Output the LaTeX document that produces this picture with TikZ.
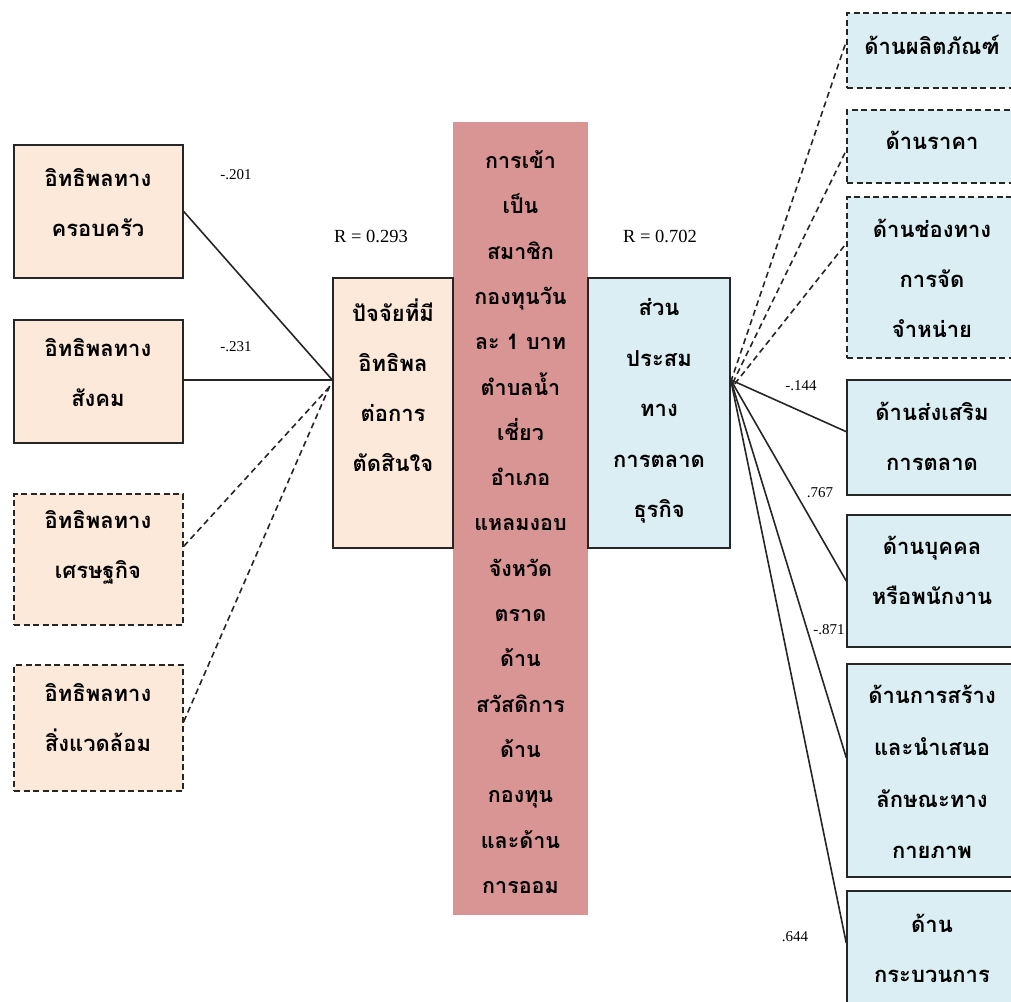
\documentclass[tikz,border=0pt]{standalone}
\usepackage{fontspec}
\usetikzlibrary{calc}
\setmainfont{Liberation Serif}
\newfontfamily\thaifont[Script=Thai]{Loma}
\definecolor{peachc}{RGB}{253,233,217}
\definecolor{bluec}{RGB}{218,238,243}
\definecolor{redc}{RGB}{217,149,148}
\tikzset{
  box/.style={draw=black!85, line width=1.5pt, rectangle, inner sep=0pt},
  peachbox/.style={box, fill=peachc},
  bluebox/.style={box, fill=bluec},
  dashbox/.style={dash pattern=on 6pt off 3.5pt},
  ttext/.style={font=\thaifont\bfseries\fontsize{22}{50}\selectfont, align=center, inner sep=0pt, text=black},
  num/.style={font=\fontsize{15}{17}\selectfont, inner sep=0pt},
  rlab/.style={font=\fontsize{18.5}{20}\selectfont, inner sep=0pt},
  link/.style={line width=1.6pt, draw=black!85},
  dlink/.style={link, dash pattern=on 6pt off 4pt}
}
\begin{document}
\begin{tikzpicture}[x=1pt,y=-1pt]
\useasboundingbox (0,0) rectangle (1011,1001);

% left boxes
\node[peachbox, minimum width=169pt, minimum height=133pt] (L1) at (98.5,211.5) {};
\node[peachbox, minimum width=169pt, minimum height=123pt] (L2) at (98.5,381.5) {};
\node[peachbox, dashbox, minimum width=169pt, minimum height=131pt] (L3) at (98.5,559.5) {};
\node[peachbox, dashbox, minimum width=169pt, minimum height=126pt] (L4) at (98.5,728) {};
\node[ttext] (L1t) at (98,203) {อิทธิพลทาง\\ครอบครัว};
\node[ttext] (L2t) at (98,373) {อิทธิพลทาง\\สังคม};
\node[ttext] (L3t) at (98,547) {อิทธิพลทาง\\เศรษฐกิจ};
\node[ttext] (L4t) at (98,718) {อิทธิพลทาง\\สิ่งแวดล้อม};

% centre
\node[fill=redc, minimum width=135pt, minimum height=793pt, inner sep=0pt] (red) at (520.5,518.5) {};
\node[ttext, font=\thaifont\bfseries\fontsize{21.5}{45.3}\selectfont] (redt) at (520.5,522)
 {การเข้า\\เป็น\\สมาชิก\\กองทุนวัน\\ละ 1 บาท\\ตำบลน้ำ\\เชี่ยว\\อำเภอ\\แหลมงอบ\\จังหวัด\\ตราด\\ด้าน\\สวัสดิการ\\ด้าน\\กองทุน\\และด้าน\\การออม};
\node[peachbox, minimum width=120pt, minimum height=270pt] (dec) at (393,413) {};
\node[ttext] (dect) at (393,385) {ปัจจัยที่มี\\อิทธิพล\\ต่อการ\\ตัดสินใจ};
\node[bluebox, minimum width=142pt, minimum height=270pt] (mix) at (659,413) {};
\node[ttext, font=\thaifont\bfseries\fontsize{22}{50.5}\selectfont] (mixt) at (659,411) {ส่วน\\ประสม\\ทาง\\การตลาด\\ธุรกิจ};

% right boxes
\node[bluebox, dashbox, minimum width=173pt, minimum height=75pt] (R1) at (933.5,50.5) {};
\node[bluebox, dashbox, minimum width=173pt, minimum height=73pt] (R2) at (933.5,146.5) {};
\node[bluebox, dashbox, minimum width=173pt, minimum height=161pt] (R3) at (933.5,277.5) {};
\node[bluebox, minimum width=173pt, minimum height=115pt] (R4) at (933.5,437.5) {};
\node[bluebox, minimum width=173pt, minimum height=132pt] (R5) at (933.5,581) {};
\node[bluebox, minimum width=173pt, minimum height=213pt] (R6) at (933.5,770.5) {};
\node[bluebox, minimum width=173pt, minimum height=124pt] (R7) at (933.5,953) {};
\node[ttext] (R1t) at (932,45) {ด้านผลิตภัณฑ์};
\node[ttext] (R2t) at (932,140) {ด้านราคา};
\node[ttext] (R3t) at (932,278) {ด้านช่องทาง\\การจัด\\จำหน่าย};
\node[ttext] (R4t) at (932,436) {ด้านส่งเสริม\\การตลาด};
\node[ttext] (R5t) at (932,570) {ด้านบุคคล\\หรือพนักงาน};
\node[ttext, font=\thaifont\bfseries\fontsize{22}{51.7}\selectfont] (R6t) at (932,772) {ด้านการสร้าง\\และนำเสนอ\\ลักษณะทาง\\กายภาพ};
\node[ttext] (R7t) at (932,948) {ด้าน\\กระบวนการ};

% junction points
\coordinate (dj) at ($(dec.north west)!0.378!(dec.south west)$);
\coordinate (mj) at ($(mix.north east)!0.378!(mix.south east)$);

% connectors left
\draw[link] (L1.east) -- (dj);
\draw[link] (L2.east |- dj) -- (dj);
\draw[dlink] ($(L3.north east)!0.4!(L3.south east)$) -- ([yshift=-4pt]dj);
\draw[dlink] ($(L4.north east)!0.45!(L4.south east)$) -- ([yshift=-5pt,xshift=-2pt]dj);

% connectors right
\draw[dlink] ([yshift=-2pt]mj) -- ($(R1.north west)!0.38!(R1.south west)$);
\draw[dlink] ([yshift=-3pt,xshift=2pt]mj) -- ($(R2.north west)!0.55!(R2.south west)$);
\draw[dlink] ([yshift=-4pt,xshift=4pt]mj) -- ($(R3.north west)!0.29!(R3.south west)$);
\draw[link] (mj) -- ($(R4.north west)!0.45!(R4.south west)$);
\draw[link] (mj) -- (R5.west);
\draw[link] (mj) -- ($(R6.north west)!0.44!(R6.south west)$);
\draw[link] (mj) -- ($(R7.north west)!0.42!(R7.south west)$);

% labels
\node[num] (n1) at (236,175) {-.201};
\node[num] (n2) at (236,347) {-.231};
\node[rlab] (ra) at (371,236) {R = 0.293};
\node[rlab] (rb) at (660,236) {R = 0.702};
\node[num] (n3) at (801,386) {-.144};
\node[num] (n4) at (820,493) {.767};
\node[num] (n5) at (829,630) {-.871};
\node[num] (n6) at (795,937) {.644};
\end{tikzpicture}
\end{document}
